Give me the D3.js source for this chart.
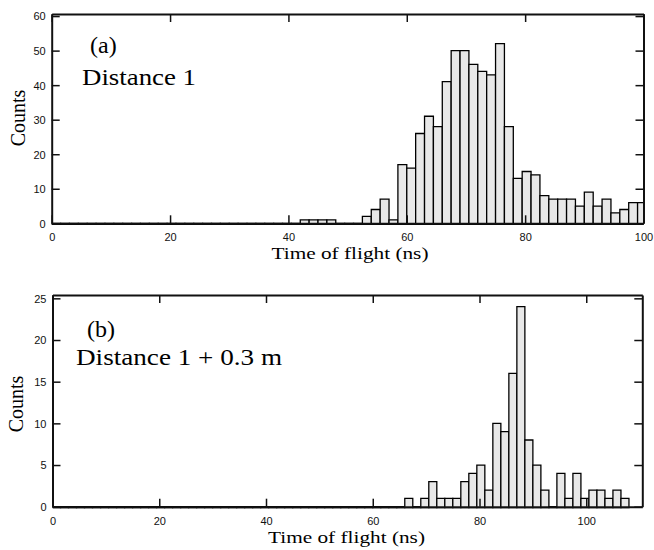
<!DOCTYPE html>
<html>
<head>
<meta charset="utf-8">
<script src="https://cdn.jsdelivr.net/npm/d3@7"></script>
<style>
  body { margin: 0; background: #fff; }
  .tick text { font-family: "Liberation Sans", Arial, sans-serif; font-size: 11px; fill: #111; }
  .title { font-family: "Liberation Serif", "Times New Roman", serif; fill: #000; }
</style>
</head>
<body>
<svg id="chart" width="654" height="550"></svg>
<script>
// Histogram bin width (ns), bins start at 0
const binWidth = 1.5;

// Panel (a): Distance 1
const countsA = [
  0, 0, 0, 0, 0, 0, 0, 0, 0, 0, 0, 0, 0, 0, 0, 0, 0, 0, 0, 0,
  0, 0, 0, 0, 0, 0, 0, 0, 1, 1, 1, 1, 0, 0, 0, 2, 4, 7, 1, 17,
  16, 26, 31, 28, 41, 50, 50, 46, 44, 43, 52, 28, 13, 15, 14, 8, 7, 7, 7, 5,
  9, 5, 7, 3, 4, 6, 6
];
const xTicksA = [0, 20, 40, 60, 80, 100];
const yTicksA = [0, 10, 20, 30, 40, 50, 60];

// Panel (b): Distance 1 + 0.3 m
const countsB = [
  0, 0, 0, 0, 0, 0, 0, 0, 0, 0, 0, 0, 0, 0, 0, 0, 0, 0, 0, 0,
  0, 0, 0, 0, 0, 0, 0, 0, 0, 0, 0, 0, 0, 0, 0, 0, 0, 0, 0, 0,
  0, 0, 0, 0, 1, 0, 1, 3, 1, 1, 1, 3, 4, 5, 2, 10, 9, 16, 24, 8,
  5, 2, 0, 4, 1, 4, 1, 2, 2, 1, 2, 1
];
const xTicksB = [0, 20, 40, 60, 80, 100];
const yTicksB = [0, 5, 10, 15, 20, 25];

const svg = d3.select("#chart");

function drawPanel(cfg) {
  const x = d3.scaleLinear().domain([0, cfg.xMax]).range([cfg.left, cfg.right]);
  const y = d3.scaleLinear().domain([0, cfg.yMax]).range([cfg.bottom, cfg.top]);
  const g = svg.append("g");

  // clip bars to the plot frame
  g.append("clipPath").attr("id", cfg.id + "-clip")
    .append("rect")
    .attr("x", cfg.left).attr("y", cfg.top)
    .attr("width", cfg.right - cfg.left).attr("height", cfg.bottom - cfg.top + 3);

  const bins = cfg.counts.map((c, i) => ({ x0: i * binWidth, x1: (i + 1) * binWidth, c }));

  // bars as paths so empty bins still leave a stroke on the baseline
  g.append("g")
    .attr("clip-path", `url(#${cfg.id}-clip)`)
    .selectAll("path")
    .data(bins)
    .enter()
    .append("path")
    .attr("d", d => {
      const x0 = x(d.x0), x1 = x(d.x1), y0 = y(0) + 1, y1 = y(d.c);
      return `M${x0},${y0}V${y1}H${x1}V${y0}Z`;
    })
    .attr("fill", "#e8e8e8")
    .attr("stroke", "#000")
    .attr("stroke-width", 1.3);

  // axes: ticks pointing inward on all four sides
  const bottom = g.append("g")
    .attr("transform", `translate(0,${cfg.bottom})`)
    .call(d3.axisBottom(x).tickValues(cfg.xTicks).tickSizeInner(-8).tickSizeOuter(0).tickPadding(cfg.xPad));
  const top = g.append("g")
    .attr("transform", `translate(0,${cfg.top})`)
    .call(d3.axisTop(x).tickValues(cfg.xTicks).tickFormat("").tickSizeInner(-8).tickSizeOuter(0));
  const left = g.append("g")
    .attr("transform", `translate(${cfg.left},0)`)
    .call(d3.axisLeft(y).tickValues(cfg.yTicks).tickSizeInner(-8).tickSizeOuter(0).tickPadding(6));
  const right = g.append("g")
    .attr("transform", `translate(${cfg.right},0)`)
    .call(d3.axisRight(y).tickValues(cfg.yTicks).tickFormat("").tickSizeInner(-8).tickSizeOuter(0));

  [bottom, top, left, right].forEach(a => {
    a.select(".domain").attr("stroke", "#111").attr("stroke-width", 2);
    a.selectAll(".tick line").attr("stroke", "#111").attr("stroke-width", 1.5);
  });
  left.selectAll(".tick text").attr("dy", "0.35em");

  // axis titles (the original serif face is a little wider than Times)
  g.append("text").attr("class", "title")
    .attr("x", cfg.xTitleX).attr("y", cfg.xTitleY)
    .attr("text-anchor", "middle")
    .attr("font-size", 17)
    .attr("textLength", 157).attr("lengthAdjust", "spacingAndGlyphs")
    .text("Time of flight (ns)");
  g.append("text").attr("class", "title")
    .attr("transform", `translate(${cfg.yTitleX},${cfg.yTitleY}) rotate(-90)`)
    .attr("text-anchor", "middle")
    .attr("font-size", 20)
    .text("Counts");

  // panel labels
  g.append("text").attr("class", "title")
    .attr("x", cfg.tagX).attr("y", cfg.tagY)
    .attr("font-size", 24)
    .text(cfg.tag);
  g.append("text").attr("class", "title")
    .attr("x", cfg.labelX).attr("y", cfg.labelY)
    .attr("font-size", 24)
    .attr("textLength", cfg.labelW).attr("lengthAdjust", "spacingAndGlyphs")
    .text(cfg.label);
}

drawPanel({
  id: "a", counts: countsA, xTicks: xTicksA, yTicks: yTicksA,
  xMax: 100, yMax: 60.6,
  left: 51.7, right: 643.5, top: 14, bottom: 223.3, xPad: 10,
  xTitleX: 350, xTitleY: 259, yTitleX: 25, yTitleY: 118,
  tag: "(a)", tagX: 90, tagY: 53,
  label: "Distance 1", labelX: 82, labelY: 85, labelW: 114
});

drawPanel({
  id: "b", counts: countsB, xTicks: xTicksB, yTicks: yTicksB,
  xMax: 110.5, yMax: 25.4,
  left: 52.5, right: 642.3, top: 295, bottom: 506.7, xPad: 10.5,
  xTitleX: 346.5, xTitleY: 542.5, yTitleX: 23, yTitleY: 404,
  tag: "(b)", tagX: 87, tagY: 337,
  label: "Distance 1 + 0.3 m", labelX: 76, labelY: 365, labelW: 206
});
</script>
</body>
</html>
